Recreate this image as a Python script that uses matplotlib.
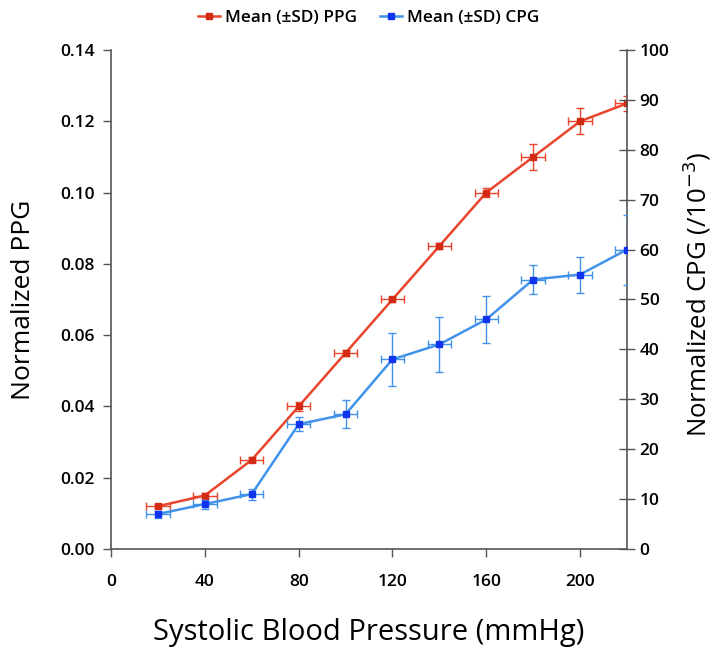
import matplotlib
matplotlib.use("Agg")
import matplotlib.pyplot as plt
from matplotlib.lines import Line2D

plt.rcParams['font.family'] = ['Open Sans', 'DejaVu Sans']

# Data
pressure = [20, 40, 60, 80, 100, 120, 140, 160, 180, 200, 220]
pressure_sd = [5, 5, 5, 5, 5, 5, 5, 5, 5, 5, 5]
ppg_mean = [0.012, 0.015, 0.025, 0.040, 0.055, 0.070, 0.085, 0.100, 0.110, 0.120, 0.125]
ppg_sd = [0.0005, 0.0006, 0.0007, 0.0012, 0.0009, 0.0008, 0.0008, 0.0013, 0.0036, 0.0036, 0.0022]
cpg_mean = [7.0, 9.0, 11.0, 25.0, 27.0, 38.0, 41.0, 46.0, 54.0, 55.0, 60.0]
cpg_sd = [0.7, 0.9, 1.1, 1.4, 2.8, 5.3, 5.5, 4.7, 3.0, 3.6, 7.0]

x_ticks = [0, 40, 80, 120, 160, 200]
ppg_ticks = [0.00, 0.02, 0.04, 0.06, 0.08, 0.10, 0.12, 0.14]
cpg_ticks = [0, 10, 20, 30, 40, 50, 60, 70, 80, 90, 100]

red_line = '#e8452c'
red_mark = '#d42a14'
blue_line = '#4192ea'
blue_mark = '#1034ee'

fig = plt.figure(figsize=(7.17, 6.5), dpi=100)
ax = fig.add_axes([0.1548, 0.1554, 0.7197, 0.7677])
ax2 = ax.twinx()

ax.errorbar(pressure, ppg_mean, yerr=ppg_sd, xerr=pressure_sd, color=red_line,
            lw=1.8, elinewidth=1.0, capsize=3, capthick=1.0, ecolor=red_line,
            marker='s', ms=4, mfc=red_mark, mec=red_mark, zorder=3)
ax2.errorbar(pressure, cpg_mean, yerr=cpg_sd, xerr=pressure_sd, color=blue_line,
             lw=1.8, elinewidth=1.0, capsize=3, capthick=1.0, ecolor=blue_line,
             marker='s', ms=4, mfc=blue_mark, mec=blue_mark, zorder=3)

ax.set_xlim(0, 220)
ax.set_ylim(0, 0.14)
ax2.set_ylim(0, 100)
ax.set_xticks(x_ticks)
ax.set_xticklabels([str(t) for t in x_ticks])
ax.set_yticks(ppg_ticks)
ax.set_yticklabels([f"{t:.2f}" for t in ppg_ticks])
ax2.set_yticks(cpg_ticks)
ax2.set_yticklabels([str(t) for t in cpg_ticks])

for a in (ax, ax2):
    a.spines['top'].set_visible(False)
    for s in a.spines.values():
        s.set_color('#555555')
        s.set_linewidth(1.2)
ax.spines['right'].set_visible(False)
ax2.spines['left'].set_visible(False)
ax2.spines['bottom'].set_visible(False)

ax.tick_params(axis='y', direction='out', length=6, width=1, color='#555555',
               labelsize=12.5, pad=6)
ax.tick_params(axis='x', direction='out', length=6, width=1, color='#555555',
               labelsize=12.5, pad=12)
ax2.tick_params(axis='y', direction='inout', length=12, width=1, color='#555555',
                labelsize=12.5, pad=3)
for lab in ax.get_xticklabels() + ax.get_yticklabels() + ax2.get_yticklabels():
    lab.set_fontweight('semibold')

ax.set_xlabel('Systolic Blood Pressure (mmHg)', fontsize=21, labelpad=20)
ax.set_ylabel('Normalized PPG', fontsize=19)
ax.yaxis.set_label_coords(-0.145, 0.5)
ax2.set_ylabel('Normalized CPG (/10$^{-3}$)', fontsize=18.5)
ax2.yaxis.set_label_coords(1.104, 0.51)

handles = [
    Line2D([], [], color=red_line, lw=1.8, marker='s', ms=4, mfc=red_mark, mec=red_mark),
    Line2D([], [], color=blue_line, lw=1.8, marker='s', ms=4, mfc=blue_mark, mec=blue_mark),
]
leg = fig.legend(handles, ['Mean (\u00b1SD) PPG', 'Mean (\u00b1SD) CPG'],
                 loc='center', bbox_to_anchor=(0.514, 0.972), ncol=2, frameon=False,
                 fontsize=12.3, handlelength=1.3, handletextpad=0.3, columnspacing=1.3)
for t in leg.get_texts():
    t.set_fontweight('semibold')

fig.savefig('out.png', dpi=100)
